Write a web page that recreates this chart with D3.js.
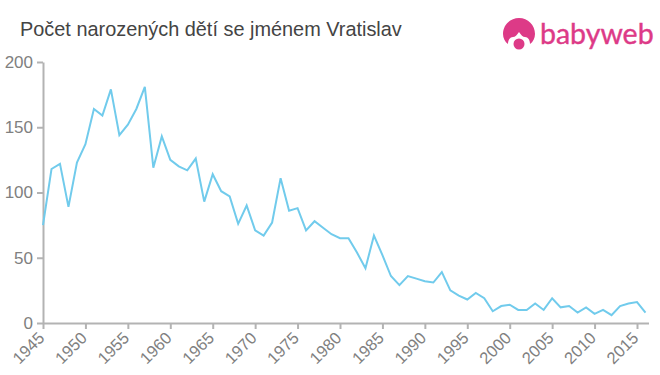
<!DOCTYPE html>
<html>
<head>
<meta charset="utf-8">
<script src="https://cdn.jsdelivr.net/npm/d3@7"></script>
<style>
  html, body { margin: 0; padding: 0; background: #fff; }
  svg { display: block; font-family: "Liberation Sans", Arial, sans-serif; }
  .axis path, .axis line { stroke: #b3b3b3; stroke-width: 2px; }
  .axis text { fill: #808080; font-size: 17px; }
  .axis.x-axis text { font-size: 16.5px; }
</style>
</head>
<body>
<div id="chart"></div>
<script>
const firstYear = 1945;
const births = [
  75, 118, 122, 89, 123, 137, 164, 159, 179, 144,
  152, 164, 181, 119, 143, 125, 120, 117, 126, 93,
  114, 101, 97, 76, 90, 71, 67, 77, 111, 86,
  88, 71, 78, 73, 68, 65, 65, 54, 42, 67,
  52, 36, 29, 36, 34, 32, 31, 39, 25, 21,
  18, 23, 19, 9, 13, 14, 10, 10, 15, 10,
  19, 12, 13, 8, 12, 7, 10, 6, 13, 15, 16, 8
];
const years = births.map((d, i) => firstYear + i);
const xTicks = d3.range(1945, 2016, 5);
const yTicks = [0, 50, 100, 150, 200];
const chartTitle = "Počet narozených dětí se jménem Vratislav";
const logoText = "babyweb";

const width = 660, height = 375;
const margin = {top: 62, right: 11, bottom: 52, left: 43};

const svg = d3.select("#chart").append("svg")
    .attr("width", width)
    .attr("height", height);

const x = d3.scaleLinear().domain([1945, 2015]).range([margin.left, 637]);
const y = d3.scaleLinear().domain([0, 200]).range([height - margin.bottom, margin.top]);

svg.append("text")
    .attr("x", 20)
    .attr("y", 36)
    .attr("font-size", "19.9px")
    .attr("fill", "#444")
    .text(chartTitle);

// x axis runs a bit past the last year
const xAxis = svg.append("g")
    .attr("class", "axis x-axis")
    .attr("transform", `translate(0,${height - margin.bottom})`)
    .call(d3.axisBottom(x).tickValues(xTicks).tickFormat(d3.format("d")).tickSize(6).tickSizeOuter(0));
xAxis.select(".domain").attr("d", `M${margin.left},0.5H${width - margin.right}`);
xAxis.selectAll("text")
    .attr("x", 0)
    .attr("y", 0)
    .attr("dy", 0)
    .attr("text-anchor", "end")
    .attr("transform", "translate(2,16) rotate(-45)");

const yAxis = svg.append("g")
    .attr("class", "axis")
    .attr("transform", `translate(${margin.left},0)`)
    .call(d3.axisLeft(y).tickValues(yTicks).tickSize(6).tickSizeOuter(0));
yAxis.selectAll("text").attr("x", -10);

const line = d3.line()
    .x((d, i) => x(years[i]))
    .y(d => y(d));

svg.append("path")
    .datum(births)
    .attr("fill", "none")
    .attr("stroke", "#71cbec")
    .attr("stroke-width", 2)
    .attr("d", line);

// logo
const logo = svg.append("g").attr("transform", "translate(502,17)");
logo.append("path")
    .attr("fill", "#dd3a87")
    .attr("d", "M17 1C8 1 1 8 1 17C1 21 3 25 6 27C6 23 8 20 11 20C13 20 15 18 17 15C19 18 21 20 23 20C26 20 28 23 28 27C31 25 33 21 33 17C33 8 26 1 17 1Z");
logo.append("circle")
    .attr("cx", 17)
    .attr("cy", 27)
    .attr("r", 5.5)
    .attr("fill", "#dd3a87");
logo.append("text")
    .attr("x", 38)
    .attr("y", 27)
    .attr("font-family", "Lato, sans-serif")
    .attr("font-size", "28.5px")
    .attr("fill", "#dd3a87")
    .attr("stroke", "#dd3a87")
    .attr("stroke-width", 0.4)
    .text(logoText);
</script>
</body>
</html>
